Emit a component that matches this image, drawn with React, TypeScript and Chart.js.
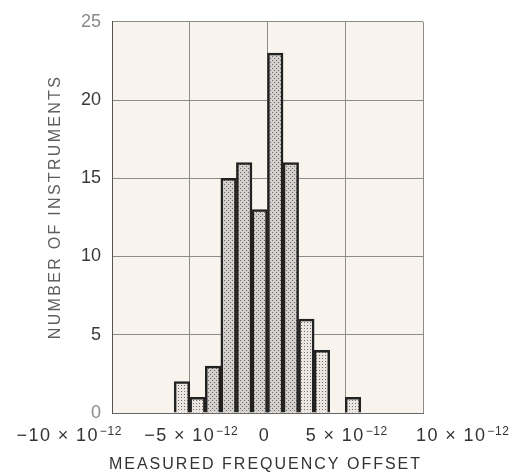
import React, { useEffect, useRef } from 'react';
import { Chart, registerables } from 'chart.js';

Chart.register(...registerables);

// Histogram bins (units of 1e-12), centres of 1e-12 wide bins
const binCenters = [-5.5, -4.5, -3.5, -2.5, -1.5, -0.5, 0.5, 1.5, 2.5, 3.5, 4.5, 5.5];
const counts = [2, 1, 3, 15, 16, 13, 23, 16, 6, 4, 0, 1];
const denseBins = [false, false, true, true, true, true, true, true, false, false, false, false];

const xTickValues = [-10, -5, 0, 5, 10];
const xTickMantissas = ['\u221210 \u00d7 10', '\u22125 \u00d7 10', '0', '5 \u00d7 10', '10 \u00d7 10'];
const xTickExponents = ['\u221212', '\u221212', '', '\u221212', '\u221212'];
const yMin = 0;
const yMax = 25;
const yStep = 5;
const xTitle = 'MEASURED FREQUENCY OFFSET';
const yTitle = 'NUMBER OF INSTRUMENTS';

const FONT = '"Liberation Sans", Arial, sans-serif';

function makePattern(dense: boolean): CanvasPattern | string {
  const c = document.createElement('canvas');
  const s = dense ? 4 : 3;
  c.width = s;
  c.height = s;
  const g = c.getContext('2d');
  if (!g) return '#ddd';
  g.fillStyle = dense ? '#d3d0cd' : '#ebe6e1';
  g.fillRect(0, 0, s, s);
  g.fillStyle = dense ? '#6a6866' : '#72706e';
  if (dense) {
    g.fillRect(0, 0, 1, 1);
    g.fillRect(2, 2, 1, 1);
  } else {
    g.fillRect(1, 1, 1, 1);
  }
  const ctx = document.createElement('canvas').getContext('2d');
  const p = ctx ? ctx.createPattern(c, 'repeat') : null;
  return p || '#ddd';
}

const bgPlugin = {
  id: 'bgPlugin',
  beforeDraw(chart: any) {
    const { ctx, chartArea } = chart;
    ctx.save();
    ctx.fillStyle = '#ffffff';
    ctx.fillRect(0, 0, chart.width, chart.height);
    ctx.fillStyle = '#f9f3ee';
    ctx.fillRect(chartArea.left, chartArea.top, chartArea.right - chartArea.left, chartArea.bottom - chartArea.top);
    ctx.restore();
  },
};

const labelsPlugin = {
  id: 'labelsPlugin',
  afterDraw(chart: any) {
    const { ctx, chartArea } = chart;
    const xs = chart.scales.x;
    ctx.save();
    const mainFont = `18px ${FONT}`;
    const supFont = `12px ${FONT}`;
    const mainSpacing = '1.4px';
    const supSpacing = '0.6px';
    const baseY = chartArea.bottom + 28;
    xTickValues.forEach((v, i) => {
      const px = xs.getPixelForValue(v);
      (ctx as any).letterSpacing = mainSpacing;
      ctx.font = mainFont;
      const wMain = ctx.measureText(xTickMantissas[i]).width;
      (ctx as any).letterSpacing = supSpacing;
      ctx.font = supFont;
      const wSup = xTickExponents[i] ? ctx.measureText(xTickExponents[i]).width + 2 : 0;
      const w = wMain + wSup;
      let left: number;
      if (i === 0) left = px + 11 - w;
      else if (i === xTickValues.length - 1) left = px - 7;
      else if (v === 0) left = px - 3 - w / 2;
      else left = px + 2 - w / 2;
      ctx.fillStyle = '#333333';
      ctx.textAlign = 'left';
      ctx.textBaseline = 'alphabetic';
      (ctx as any).letterSpacing = mainSpacing;
      ctx.font = mainFont;
      ctx.fillText(xTickMantissas[i], left, baseY);
      if (xTickExponents[i]) {
        (ctx as any).letterSpacing = supSpacing;
        ctx.font = supFont;
        ctx.fillText(xTickExponents[i], left + wMain + 1, baseY - 6);
      }
    });

    // x title
    ctx.font = `16px ${FONT}`;
    (ctx as any).letterSpacing = '2px';
    ctx.fillStyle = '#333333';
    ctx.textAlign = 'center';
    ctx.textBaseline = 'alphabetic';
    ctx.fillText(xTitle, (chartArea.left + chartArea.right) / 2 - 2, chartArea.bottom + 56);

    // y title
    ctx.save();
    ctx.translate(56, 207);
    ctx.rotate(-Math.PI / 2);
    ctx.fillStyle = '#5e5e5e';
    (ctx as any).letterSpacing = '2.3px';
    ctx.font = `16px ${FONT}`;
    ctx.textAlign = 'center';
    ctx.textBaseline = 'middle';
    ctx.fillText(yTitle, 0, 0);
    ctx.restore();
    ctx.restore();
  },
};

export default function App() {
  const ref = useRef<HTMLCanvasElement | null>(null);
  useEffect(() => {
    if (!ref.current) return;
    const patterns = denseBins.map((d) => makePattern(d));
    const chart = new Chart(ref.current, {
      type: 'bar',
      data: {
        datasets: [
          {
            data: binCenters.map((x, i) => ({ x, y: counts[i] })),
            backgroundColor: patterns as any,
            borderColor: '#222222',
            borderWidth: 2.5,
            barPercentage: 1,
            categoryPercentage: 1,
          } as any,
        ],
      },
      options: {
        responsive: false,
        animation: false,
        layout: { padding: { top: 20, right: 91, left: 0, bottom: 0 } },
        plugins: { legend: { display: false }, tooltip: { enabled: false } },
        scales: {
          x: {
            type: 'linear',
            min: -10,
            max: 10,
            offset: false,
            ticks: { stepSize: 5, display: false },
            grid: { color: '#8c8c8c', lineWidth: 1, drawTicks: false, offset: false },
            border: { display: true, color: '#666666', width: 1 },
            afterFit: (scale: any) => {
              scale.height = 61;
            },
          } as any,
          y: {
            min: yMin,
            max: yMax,
            ticks: {
              stepSize: yStep,
              padding: 11,
              font: { size: 18, family: FONT },
              color: (c: any) => (c.tick && (c.tick.value === 0 || c.tick.value === 25) ? '#8a8a8a' : '#3a3a3a'),
            },
            grid: { color: '#8c8c8c', lineWidth: 1, drawTicks: false },
            border: { display: true, color: '#555555', width: 1 },
            afterFit: (scale: any) => {
              scale.width = 112;
            },
          } as any,
        },
      },
      plugins: [bgPlugin, labelsPlugin],
    });
    return () => chart.destroy();
  }, []);
  return (
    <div style={{ position: 'absolute', left: 0, top: 0, width: 514, height: 474, background: '#fff' }}>
      <canvas ref={ref} width={514} height={474} style={{ display: 'block' }} />
    </div>
  );
}
